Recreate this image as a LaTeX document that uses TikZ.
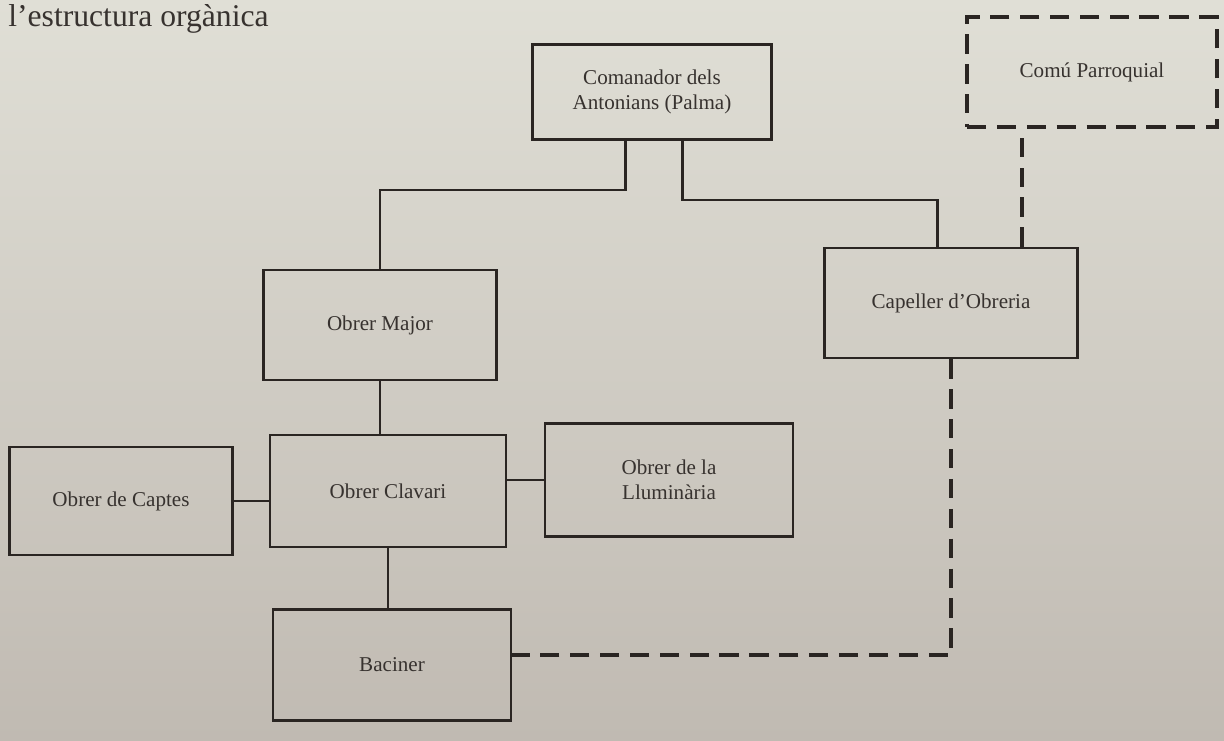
\documentclass[tikz,border=0pt]{standalone}
\usepackage{fontspec}
\setmainfont{Liberation Serif}
\usepackage{tikz}
\usetikzlibrary{positioning}

\definecolor{paperhi}{RGB}{224,223,214}
\definecolor{paperlo}{RGB}{192,186,178}
\definecolor{ink}{RGB}{42,37,34}
\definecolor{inktext}{RGB}{55,50,47}

\tikzset{
  carrec/.style={draw=ink, line width=1.6pt, text=inktext, align=center,
    font=\fontsize{12}{14}\selectfont, inner sep=0pt},
  enllac/.style={draw=ink, line width=1.7pt},
  enllacdisc/.style={draw=ink, line width=2.6pt, dash pattern=on 11pt off 6pt}
}

\begin{document}
\begin{tikzpicture}
  % fons (pàgina del llibre)
  \shade[top color=paperhi, bottom color=paperlo] (0,0) rectangle (24.48,14.8);
  \useasboundingbox (0,0) rectangle (24.48,14.8);

  % text de la pàgina, a dalt
  \node[anchor=base west, text=inktext, font=\fontsize{18}{20}\selectfont, inner sep=0pt]
    (titol) at (0.16,14.26) {l'estructura orgànica};

  % càrrecs
  \node[carrec, minimum width=4.78cm, minimum height=1.9cm] (com) at (13.04,12.96)
    {Comanador dels\\Antonians (Palma)};
  \node[carrec, dash pattern=on 11pt off 6pt, line width=2.6pt,
    minimum width=5.0cm, minimum height=2.2cm] (comu) at (21.84,13.36) {Comú Parroquial};
  \node[carrec, minimum width=5.06cm, minimum height=2.2cm] (cap) at (19.02,8.74)
    {Capeller d'Obreria};
  \node[carrec, minimum width=4.66cm, minimum height=2.2cm] (major) at (7.6,8.3)
    {Obrer Major};
  \node[carrec, minimum width=4.46cm, minimum height=2.16cm] (captes) at (2.42,4.78)
    {Obrer de Captes};
  \node[carrec, minimum width=4.72cm, minimum height=2.24cm] (clavari) at (7.76,4.98)
    {Obrer Clavari};
  \node[carrec, minimum width=4.96cm, minimum height=2.26cm] (llum) at (13.38,5.2)
    {Obrer de la\\Lluminària};
  \node[carrec, minimum width=4.76cm, minimum height=2.22cm] (baciner) at (7.84,1.5)
    {Baciner};

  % dependències
  \draw[enllac] (12.5,0 |- com.south) -- (12.5,11.0) -| (major.north);
  \draw[enllac] (13.64,0 |- com.south) -- (13.64,10.8) -| ([xshift=-0.28cm]cap.north);
  \draw[enllac] (major.south) -- (major.south |- clavari.north);
  \draw[enllac] (captes.east) -- (captes.east -| clavari.west);
  \draw[enllac] (llum.west -| clavari.east) -- (llum.west);
  \draw[enllac] (clavari.south) -- (clavari.south |- baciner.north);

  % relacions discontínues
  \draw[enllacdisc] (20.44,0 |- cap.north) -- (20.44,0 |- comu.south);
  \draw[enllacdisc] (cap.south) |- ([yshift=0.2cm]baciner.east);
\end{tikzpicture}
\end{document}
